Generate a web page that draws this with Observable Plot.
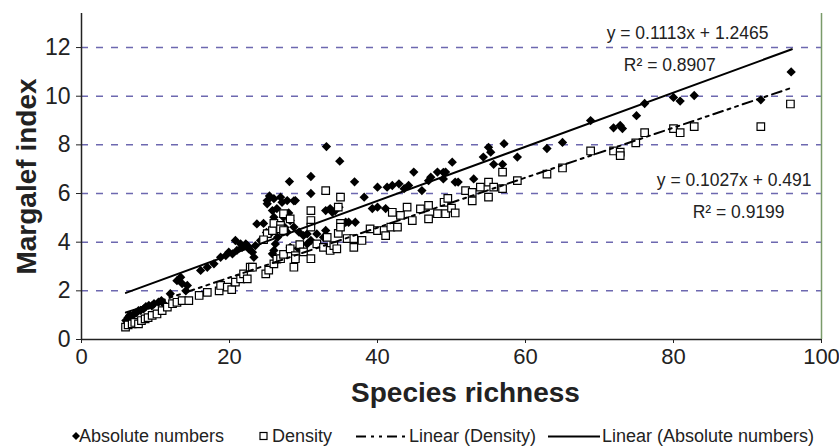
<!DOCTYPE html>
<html><head><meta charset="utf-8">
<script src="https://cdn.jsdelivr.net/npm/d3@7"></script>
<script src="https://cdn.jsdelivr.net/npm/@observablehq/plot@0.6"></script>
<style>
body{margin:0;background:#fff;font-family:"Liberation Sans",Arial,sans-serif;}
#wrap{width:839px;height:448px;position:relative;overflow:hidden;}
#legend{position:relative;width:839px;height:24px;font-size:18px;color:#222;}
#legend .it{position:absolute;top:0;line-height:24px;white-space:nowrap;}
#legend svg{position:absolute;top:0;}
</style></head><body>
<div id="wrap"><div id="chart"></div><div id="legend"></div></div>
<script>
// Absolute numbers (filled diamonds)
const absX = [6.0,6.3,6.5,6.8,7.1,7.4,7.7,8.0,8.4,8.7,9.1,9.5,9.8,10.4,10.8,11.1,12.0,12.9,13.4,13.6,14.1,14.3,16.1,17.0,17.9,18.8,19.5,19.9,20.4,20.8,21.0,21.5,21.7,22.2,22.4,22.6,23.1,23.3,23.5,23.7,24.2,24.6,25.0,25.1,25.1,25.4,25.5,25.8,25.8,26.0,26.0,26.0,26.2,26.2,26.4,26.4,26.5,26.9,26.9,27.1,27.3,27.5,27.8,27.8,28.0,28.1,28.2,28.2,28.7,28.7,28.9,29.3,29.4,30.0,30.5,30.5,31.0,31.0,31.0,31.8,32.7,33.0,33.0,33.1,33.6,33.9,34.3,34.8,34.9,35.7,36.1,36.9,37.0,38.2,39.3,40.0,40.0,41.1,41.3,42.0,42.9,43.6,44.2,44.9,46.0,46.9,47.2,48.1,48.9,48.9,49.2,50.1,50.5,50.9,53.0,54.3,55.0,55.3,55.7,56.9,57.1,58.9,62.9,65.0,68.8,71.9,72.8,73.1,75.0,76.1,80.0,80.9,82.8,91.8,95.9];
const absY = [0.78,0.9,0.99,0.95,1.05,1.1,1.19,1.2,1.26,1.35,1.4,1.38,1.47,1.53,1.6,1.47,1.88,2.42,2.56,2.3,2.0,2.22,2.84,2.97,3.11,3.38,3.45,3.59,3.52,4.07,3.66,3.93,3.79,3.93,3.86,3.73,3.59,3.38,3.86,4.75,4.07,4.77,4.4,5.71,5.58,5.9,4.35,5.3,3.52,5.79,5.03,3.66,3.93,4.62,5.38,3.25,4.2,5.85,4.48,5.64,5.03,4.6,5.71,4.41,5.2,6.49,4.89,3.79,5.7,4.62,5.71,3.74,4.41,4.27,4.34,3.93,6.7,6.0,4.07,4.34,4.2,4.48,5.3,7.93,5.38,5.23,5.3,5.44,7.33,4.82,4.82,6.48,4.82,5.85,5.38,6.26,5.44,5.38,6.26,6.33,6.4,6.2,6.33,6.88,6.12,6.53,6.67,6.88,6.87,6.6,6.88,7.29,6.47,6.47,6.6,7.5,7.9,7.7,7.2,7.2,8.05,7.5,7.85,8.1,9.0,8.7,8.8,8.67,9.2,9.7,9.95,9.8,10.03,9.85,11.0];
// Density (open squares)
const denX = [5.95,6.3,6.85,7.2,7.7,8.1,8.6,9.0,9.55,10.2,10.9,11.6,12.3,12.9,13.6,14.5,15.9,17.0,18.6,18.8,19.7,20.3,20.8,21.5,21.9,22.4,22.8,23.1,24.9,25.3,26.0,26.4,26.9,27.3,25.1,24.6,25.8,26.0,26.9,26.9,27.3,27.3,28.2,28.2,28.7,28.9,28.9,29.5,30.0,31.0,31.0,31.0,31.0,31.8,32.7,33.0,33.2,33.6,34.1,34.5,34.7,34.7,35.0,35.0,35.0,35.9,36.8,36.8,37.9,39.0,40.0,40.9,41.1,41.8,42.0,42.7,43.1,44.0,44.7,45.8,46.9,46.9,48.1,49.0,49.2,49.5,50.0,50.5,51.9,52.8,52.8,53.9,55.0,55.0,55.7,56.9,56.9,58.9,62.9,65.0,68.8,71.9,72.8,72.8,74.9,76.1,80.0,80.9,82.8,91.8,95.8];
const denY = [0.51,0.6,0.64,0.7,0.64,0.78,0.85,0.9,0.99,1.05,1.19,1.33,1.47,1.53,1.6,1.6,1.81,1.94,2.0,2.22,2.15,2.05,2.36,2.49,2.7,2.49,2.97,2.97,2.7,2.85,3.11,3.3,3.32,3.5,4.35,4.1,4.48,4.77,4.69,4.55,4.48,5.17,4.96,3.73,2.97,3.45,3.32,3.9,3.6,3.32,5.3,4.89,4.62,3.93,3.79,6.12,4.2,3.66,3.86,3.73,5.44,4.36,5.85,4.77,4.62,4.15,4.15,3.79,4.07,4.55,4.48,4.48,4.27,4.62,5.23,4.62,5.1,5.44,4.89,5.37,5.51,4.96,5.17,5.64,5.17,5.8,5.4,5.2,6.12,6.05,5.7,6.26,6.47,5.85,6.26,6.88,6.2,6.53,6.8,7.05,7.75,7.75,7.7,7.56,8.08,8.5,8.67,8.5,8.75,8.75,9.68];
// Trendline coefficients and extent
const trendRange = [6, 96];
const absFit = {slope: 0.1113, intercept: 1.2465, eq: "y = 0.1113x + 1.2465", r2: "R² = 0.8907"};
const denFit = {slope: 0.1027, intercept: 0.491, eq: "y = 0.1027x + 0.491", r2: "R² = 0.9199"};
const xTicks = [0, 20, 40, 60, 80, 100];
const yTicks = [0, 2, 4, 6, 8, 10, 12];

const absData = absX.map((x, i) => ({x, y: absY[i]}));
const denData = denX.map((x, i) => ({x, y: denY[i]}));
const line = f => trendRange.map(x => ({x, y: f.slope * x + f.intercept}));

const gridColor = "#6d68b0";
const textColor = "#222";

const chart = Plot.plot({
  width: 839, height: 424,
  marginLeft: 81, marginRight: 18, marginTop: 13, marginBottom: 85,
  x: {domain: [0, 100]},
  y: {domain: [0, 13.4]},
  style: {fontFamily: "'Liberation Sans', Arial, sans-serif", background: "#fff", color: textColor},
  marks: [
    Plot.gridY(yTicks.filter(d => d > 0), {stroke: gridColor, strokeOpacity: 1, strokeWidth: 1.5, strokeDasharray: "7,8"}),
    Plot.ruleX([100], {stroke: "#7a9a6a", strokeWidth: 1.5}),
    Plot.axisX({ticks: xTicks, tickSize: 4, tickPadding: 5, fontSize: 22, label: null, stroke: "#222"}),
    Plot.axisY({ticks: yTicks, tickSize: 5, tickPadding: 6, fontSize: 23, label: null, stroke: "#222"}),
    Plot.ruleY([0], {stroke: "#222", strokeWidth: 1.5}),
    Plot.ruleX([0], {stroke: "#222", strokeWidth: 1.5}),
    Plot.dot(absData, {x: "x", y: "y", symbol: "diamond2", r: 4.2, fill: "#000", stroke: "none"}),
    Plot.dot(denData, {x: "x", y: "y", symbol: "square2", r: 4.8, fill: "#fff", stroke: "#000", strokeWidth: 1.2}),
    Plot.line(line(absFit), {x: "x", y: "y", stroke: "#000", strokeWidth: 2}),
    Plot.line(line(denFit), {x: "x", y: "y", stroke: "#000", strokeWidth: 2, strokeDasharray: "10,5,3,5,3,5"}),
    Plot.text([absFit.eq], {x: 81.9, y: 12.58, text: d => d, fontSize: 17.5, fill: textColor}),
    Plot.text([absFit.r2], {x: 79.5, y: 11.26, text: d => d, fontSize: 17.5, fill: textColor}),
    Plot.text([denFit.eq], {x: 88.2, y: 6.53, text: d => d, fontSize: 17.5, fill: textColor}),
    Plot.text([denFit.r2], {x: 88.8, y: 5.22, text: d => d, fontSize: 17.5, fill: textColor}),
    Plot.text(["Species richness"], {frameAnchor: "bottom", textAnchor: "middle", lineAnchor: "middle", dy: 54, dx: 14, fontSize: 28, fontWeight: "bold", fill: textColor}),
    Plot.text(["Margalef index"], {frameAnchor: "left", textAnchor: "middle", lineAnchor: "middle", rotate: -90, dx: -54, fontSize: 28, fontWeight: "bold", fill: textColor})
  ]
});
document.getElementById("chart").appendChild(chart);

// Legend below the chart
const legendItems = [
  {icon: "diamond", ix: 71, label: "Absolute numbers", tx: 79},
  {icon: "square", ix: 258, label: "Density", tx: 272},
  {icon: "dash", ix: 356, label: "Linear (Density)", tx: 409},
  {icon: "solid", ix: 548, label: "Linear (Absolute numbers)", tx: 602}
];
const lg = document.getElementById("legend");
const ns = "http://www.w3.org/2000/svg";
for (const it of legendItems) {
  const s = document.createElementNS(ns, "svg");
  const w = (it.icon === "dash" || it.icon === "solid") ? 52 : 12;
  s.setAttribute("width", w); s.setAttribute("height", 24);
  s.style.left = it.ix + "px";
  let el;
  if (it.icon === "diamond") {
    el = document.createElementNS(ns, "path");
    el.setAttribute("d", "M5,8L9,12L5,16L1,12Z"); el.setAttribute("fill", "#000");
  } else if (it.icon === "square") {
    el = document.createElementNS(ns, "rect");
    el.setAttribute("x", 2); el.setAttribute("y", 8.5); el.setAttribute("width", 7); el.setAttribute("height", 7);
    el.setAttribute("fill", "#fff"); el.setAttribute("stroke", "#000"); el.setAttribute("stroke-width", 1.2);
  } else {
    el = document.createElementNS(ns, "line");
    el.setAttribute("x1", 0); el.setAttribute("x2", w); el.setAttribute("y1", 12.5); el.setAttribute("y2", 12.5);
    el.setAttribute("stroke", "#000"); el.setAttribute("stroke-width", 2);
    if (it.icon === "dash") el.setAttribute("stroke-dasharray", "10,5,3,5,3,5");
  }
  s.appendChild(el);
  lg.appendChild(s);
  const t = document.createElement("span");
  t.className = "it"; t.style.left = it.tx + "px"; t.textContent = it.label;
  lg.appendChild(t);
}
</script>
</body></html>
